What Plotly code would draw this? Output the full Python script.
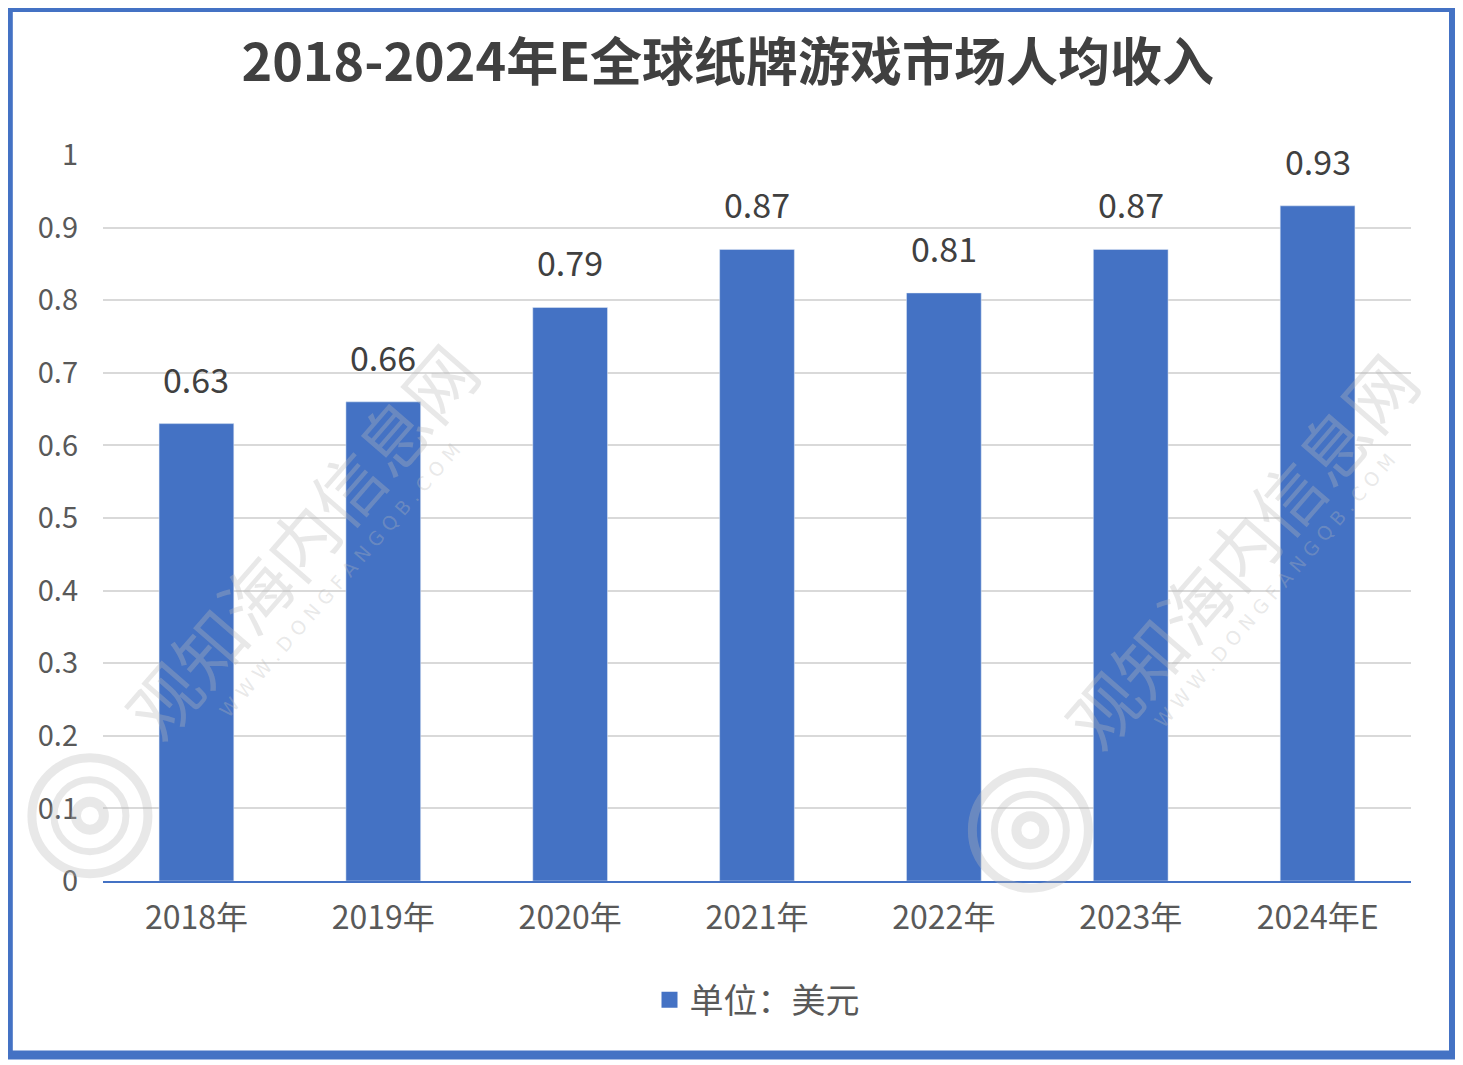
import plotly.graph_objects as go

years = ["2018年", "2019年", "2020年", "2021年", "2022年", "2023年", "2024年E"]
revenue = [0.63, 0.66, 0.79, 0.87, 0.81, 0.87, 0.93]
y_ticks = [0, 0.1, 0.2, 0.3, 0.4, 0.5, 0.6, 0.7, 0.8, 0.9, 1]
y_tick_text = ["0", "0.1", "0.2", "0.3", "0.4", "0.5", "0.6", "0.7", "0.8", "0.9", "1"]

blue = "#4472C4"
cjk = "Noto Sans CJK SC"
wm = "rgba(185,185,185,0.33)"

fig = go.Figure(go.Bar(
    x=years, y=revenue, name="单位：美元",
    marker_color=blue, width=0.4, showlegend=False,
))
# legend entry with a larger square
fig.add_trace(go.Scatter(
    x=[None], y=[None], mode="markers", name="单位：美元",
    marker=dict(symbol="square", size=16, color=blue),
))

# value labels above bars
for x, v in zip(years, revenue):
    fig.add_annotation(x=x, y=v, text=f"{v:.2f}", showarrow=False,
                       yanchor="bottom", yshift=19,
                       font=dict(family=cjk, size=34, color="#404040"))

# faint watermarks
url = " ".join("WWW.DONGFANGQB.COM")
for (mx, my), (ux, uy), (cx, cy) in [((0.1506, 0.4697), (0.181, 0.4146), (-0.01, 0.09)),
                                     ((0.869, 0.456), (0.896, 0.4008), (0.709, 0.07))]:
    fig.add_annotation(x=mx, y=my, xref="paper", yref="paper",
                       xanchor="center", yanchor="middle",
                       text="观知海内信息网", showarrow=False, textangle=-49,
                       font=dict(family=cjk, size=70, color=wm))
    fig.add_annotation(x=ux, y=uy, xref="paper", yref="paper",
                       xanchor="center", yanchor="middle",
                       text=url, showarrow=False, textangle=-49,
                       font=dict(family="DejaVu Sans", size=19, color=wm))
    for r, w in [(58, 9), (36, 7), (14, 10)]:
        fig.add_shape(type="circle", xref="paper", yref="paper",
                      xsizemode="pixel", ysizemode="pixel",
                      xanchor=cx, yanchor=cy, x0=-r, x1=r, y0=-r, y1=r,
                      line=dict(color=wm, width=w), layer="above")

# outer frame
fig.add_shape(type="rect", xref="paper", yref="paper",
              x0=-0.0724, x1=1.0325, y0=-0.2397, y1=1.2032,
              line=dict(color=blue, width=9), fillcolor="rgba(0,0,0,0)")

fig.update_layout(
    width=1463, height=1065,
    paper_bgcolor="white", plot_bgcolor="white",
    margin=dict(l=95, r=60, t=147, b=192),
    title=dict(text="<b>2018-2024年E全球纸牌游戏市场人均收入</b>",
               x=0.492, xanchor="center", y=0.949, yanchor="middle",
               font=dict(family=cjk, size=52, color="#404040")),
    showlegend=True,
    legend=dict(orientation="h", x=0.5, xanchor="center", y=-0.164, yanchor="middle",
                font=dict(family=cjk, size=34, color="#595959")),
    xaxis=dict(showline=True, linecolor=blue, linewidth=2,
               tickfont=dict(family=cjk, size=32, color="#595959"),
               ticklabelstandoff=8),
    yaxis=dict(range=[0, 1], tickvals=y_ticks, ticktext=y_tick_text,
               showgrid=True, gridcolor="#D9D9D9", gridwidth=2,
               zeroline=False,
               tickfont=dict(family=cjk, size=29, color="#595959"),
               ticklabelstandoff=24),
)

fig.write_html("out.html")
